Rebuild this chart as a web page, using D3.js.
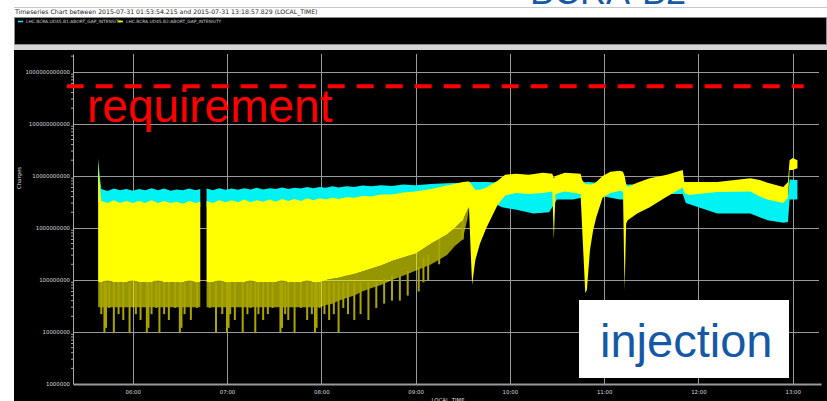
<!doctype html>
<html lang="en">
<head>
<meta charset="utf-8">
<script src="https://d3js.org/d3.v7.min.js"></script>
<title>Abort gap intensity</title>
<style>
  body { margin: 0; background: #fff; }
  svg { display: block; }
</style>
</head>
<body>
<svg id="svg" width="827" height="401"></svg>
<script>
// ---- data ----
const titleText = "Timeseries Chart between 2015-07-31 01:53:54.215 and 2015-07-31 13:18:57.829 (LOCAL_TIME)";
const seriesNames = ["LHC.BCRA.UD45.B1:ABORT_GAP_INTENSITY", "LHC.BCRA.UD45.B2:ABORT_GAP_INTENSITY"];
const hourTicks = ["06:00", "07:00", "08:00", "09:00", "10:00", "11:00", "12:00", "13:00"];
const yTicks = [1e6, 1e7, 1e8, 1e9, 1e10, 1e11, 1e12];
const timeDomain = ["05:22", "13:18"];
const requirement = { value: 5.3e11, from: "05:18", to: "13:07", label: "requirement" };
const injectionLabel = "injection";
const slideLabel = "BCRA-B2";

// B1 (cyan): [time, upper, lower]
const b1 = [
  ["05:38", 2.2e10, 3.0e9], ["05:39", 1.0e10, 3.0e9], ["05:40", 5.6e9, 2.5e9],
  ["05:44", 5.1e9, 2.5e9], ["05:48", 5.7e9, 2.5e9], ["05:52", 5.3e9, 2.5e9],
  ["05:56", 5.6e9, 2.5e9], ["06:00", 5.2e9, 2.5e9], ["06:04", 5.6e9, 2.5e9],
  ["06:08", 5.3e9, 2.5e9], ["06:12", 5.8e9, 2.5e9], ["06:16", 5.3e9, 2.5e9],
  ["06:20", 5.7e9, 2.5e9], ["06:24", 5.2e9, 2.5e9], ["06:28", 5.5e9, 2.5e9],
  ["06:32", 5.3e9, 2.5e9], ["06:36", 5.7e9, 2.5e9], ["06:40", 5.3e9, 2.5e9],
  ["06:43", 5.6e9, 2.5e9], ["06:45", null, null],
  ["06:47", 5.7e9, 2.5e9], ["06:51", 5.3e9, 2.5e9], ["06:55", 5.8e9, 2.5e9],
  ["06:59", 5.4e9, 2.5e9], ["07:03", 5.7e9, 2.5e9], ["07:07", 5.4e9, 2.5e9],
  ["07:11", 5.8e9, 2.5e9], ["07:15", 5.5e9, 2.5e9], ["07:19", 5.9e9, 2.5e9],
  ["07:23", 5.5e9, 2.5e9], ["07:27", 5.8e9, 2.5e9], ["07:31", 5.6e9, 2.5e9],
  ["07:35", 6.0e9, 2.5e9], ["07:39", 5.6e9, 2.5e9], ["07:43", 5.9e9, 2.5e9],
  ["07:47", 5.7e9, 2.5e9], ["07:51", 6.1e9, 2.5e9], ["07:55", 5.8e9, 2.5e9],
  ["07:59", 6.1e9, 2.5e9], ["08:03", 5.9e9, 2.5e9], ["08:07", 6.3e9, 2.5e9],
  ["08:11", 6.0e9, 2.5e9], ["08:16", 6.3e9, 2.5e9], ["08:21", 6.1e9, 2.5e9],
  ["08:26", 6.5e9, 2.5e9], ["08:32", 6.3e9, 2.5e9], ["08:38", 6.6e9, 2.5e9],
  ["08:45", 6.4e9, 2.5e9], ["08:52", 6.8e9, 2.5e9], ["09:00", 6.6e9, 2.5e9],
  ["09:10", 7.0e9, 2.8e9], ["09:20", 7.2e9, 3.0e9], ["09:30", 7.4e9, 3.5e9],
  ["09:36", 7.6e9, 3.5e9], ["09:45", 7.6e9, 3.5e9], ["09:55", 7.4e9, 2.5e9],
  ["10:05", 7.4e9, 2.2e9], ["10:15", 6.8e9, 1.9e9], ["10:25", 7.0e9, 2.0e9],
  ["10:30", 7.4e9, 3.5e9], ["10:40", 7.4e9, 3.5e9], ["10:50", 7.6e9, 4.0e9],
  ["11:00", 7.2e9, 4.0e9], ["11:10", 6.8e9, 3.5e9], ["11:20", 6.8e9, 3.5e9],
  ["11:30", 7.4e9, 4.0e9], ["11:40", 7.8e9, 4.5e9], ["11:50", 8.0e9, 4.5e9],
  ["11:52", 7.4e9, 3.0e9], ["12:00", 6.5e9, 2.5e9], ["12:12", 6.0e9, 1.9e9],
  ["12:25", 5.8e9, 1.9e9], ["12:33", 5.6e9, 1.9e9], ["12:44", 4.0e9, 1.4e9],
  ["12:54", 3.4e9, 1.25e9], ["12:57", 4.0e9, 1.3e9], ["12:58", 8.5e9, 3.5e9],
  ["13:03", 8.3e9, 3.5e9]
];

// B2 (yellow): [time, upper, solid lower, faint lower]
const b2 = [
  ["05:38", 1.8e10, 9e7, 3e7], ["05:39", 7.0e9, 9e7, 3e7], ["05:40", 3.3e9, 9e7, 3e7],
  ["05:44", 3.0e9, 1e8, 3e7], ["05:48", 3.4e9, 9e7, 3e7], ["05:52", 3.0e9, 9e7, 3e7],
  ["05:56", 3.3e9, 9e7, 3e7], ["06:00", 3.0e9, 1e8, 3e7], ["06:04", 3.3e9, 9e7, 3e7],
  ["06:08", 3.0e9, 9e7, 3e7], ["06:12", 3.4e9, 9e7, 3e7], ["06:16", 3.0e9, 1e8, 3e7],
  ["06:20", 3.3e9, 9e7, 3e7], ["06:24", 3.0e9, 9e7, 3e7], ["06:28", 3.2e9, 9e7, 3e7],
  ["06:32", 2.9e9, 9e7, 3e7], ["06:36", 3.3e9, 1e8, 3e7], ["06:40", 3.0e9, 9e7, 3e7],
  ["06:43", 3.2e9, 9e7, 3e7], ["06:45", null, null, null],
  ["06:47", 3.3e9, 9e7, 3e7], ["06:51", 3.0e9, 9e7, 3e7], ["06:55", 3.4e9, 1e8, 3e7],
  ["06:59", 3.1e9, 9e7, 3e7], ["07:03", 3.4e9, 9e7, 3e7], ["07:07", 3.1e9, 9e7, 3e7],
  ["07:11", 3.5e9, 9e7, 3e7], ["07:15", 3.1e9, 1e8, 3e7], ["07:19", 3.4e9, 9e7, 3e7],
  ["07:23", 3.2e9, 9e7, 3e7], ["07:27", 3.5e9, 9e7, 3e7], ["07:31", 3.2e9, 9e7, 3e7],
  ["07:35", 3.6e9, 1e8, 3e7], ["07:39", 3.3e9, 9e7, 3e7], ["07:43", 3.6e9, 9e7, 3e7],
  ["07:47", 3.3e9, 9e7, 3e7], ["07:51", 3.7e9, 1e8, 3e7], ["07:55", 3.4e9, 9e7, 3e7],
  ["07:59", 3.7e9, 9e7, 3e7], ["08:03", 3.5e9, 1e8, 3.3e7], ["08:07", 3.8e9, 1.05e8, 3.5e7],
  ["08:11", 3.6e9, 1.1e8, 4e7], ["08:16", 3.9e9, 1.2e8, 4.5e7], ["08:21", 3.8e9, 1.3e8, 5e7],
  ["08:26", 4.1e9, 1.45e8, 6e7], ["08:32", 4.0e9, 1.65e8, 7e7], ["08:38", 4.4e9, 1.9e8, 8e7],
  ["08:45", 4.4e9, 2.3e8, 1.0e8], ["08:52", 4.8e9, 2.7e8, 1.2e8], ["09:00", 5.0e9, 3.2e8, 1.5e8],
  ["09:10", 5.6e9, 5.0e8, 2e8], ["09:20", 6.5e9, 7.5e8, 3e8], ["09:25", 7.0e9, 1.0e9, 4.5e8],
  ["09:30", 7.6e9, 1.4e9, 6e8], ["09:33", 7.8e9, 2.2e9, 1.5e9], ["09:34", 7.8e9, 2.5e9],
  ["09:35", 7.2e9, 4e8], ["09:36", 6.5e9, 8e7], ["09:38", 5.4e9, 2.4e8],
  ["09:41", 5.4e9, 5e8], ["09:45", 6.0e9, 1e9], ["09:52", 8.0e9, 2.7e9],
  ["09:57", 1.05e10, 4.2e9], ["10:04", 1.1e10, 4.7e9], ["10:12", 1.05e10, 4.5e9],
  ["10:21", 1.15e10, 4.7e9], ["10:27", 1.1e10, 5.0e9], ["10:28", 9.0e9, 6e8],
  ["10:29", 1.0e10, 4.5e9], ["10:35", 1.15e10, 5.0e9], ["10:45", 1.1e10, 4.5e9],
  ["10:46", 8.3e9, 1e9], ["10:48", 7.0e9, 5.6e7], ["10:49", 7.0e9, 6.4e7],
  ["10:51", 6.8e9, 3.8e8], ["10:53", 7.0e9, 9e8], ["10:55", 7.6e9, 1.6e9],
  ["10:59", 1.0e10, 3.8e9], ["11:04", 1.2e10, 4.7e9], ["11:10", 1.25e10, 5.2e9],
  ["11:12", 1.2e10, 5.0e9], ["11:13", 1.0e10, 6.4e7], ["11:14", 7.0e9, 1.2e9],
  ["11:15", 6.1e9, 1.4e9], ["11:21", 7.4e9, 1.9e9], ["11:29", 9.0e9, 2.5e9],
  ["11:40", 1.05e10, 4.0e9], ["11:50", 1.3e10, 6.0e9], ["11:51", 7.6e9, 4.7e9],
  ["11:54", 7.6e9, 4.3e9], ["12:12", 7.6e9, 4.9e9], ["12:33", 9.0e9, 5.0e9],
  ["12:39", 8.3e9, 4.0e9], ["12:44", 7.4e9, 3.5e9], ["12:54", 6.1e9, 3.0e9],
  ["12:57", 7.6e9, 3.8e9], ["12:58", 2.0e10, 1.3e10], ["13:00", 2.2e10, 1.3e10],
  ["13:03", 2.0e10, 1.4e10]
];

// B2 downward spikes below the solid band: [time, lowest value]
const b2Spikes = [
  ["05:40", 2.2e7], ["05:42", 9.5e6], ["05:43", 1.2e7], ["05:45", 2.9e7], ["05:48", 9.5e6],
  ["05:51", 2.2e7], ["05:54", 1.7e7], ["05:58", 9.5e6], ["06:02", 2.2e7], ["06:05", 1.7e7],
  ["06:09", 9.5e6], ["06:10", 1.2e7], ["06:12", 2.2e7], ["06:15", 2.9e7], ["06:17", 9.5e6],
  ["06:20", 2.2e7], ["06:23", 1.7e7], ["06:27", 2.9e7], ["06:30", 9.5e6], ["06:31", 1.2e7],
  ["06:33", 2.2e7], ["06:37", 1.7e7], ["06:41", 2.9e7], ["06:49", 2.9e7], ["06:53", 9.5e6],
  ["06:57", 2.2e7], ["07:00", 9.5e6], ["07:01", 1.2e7], ["07:02", 2.2e7], ["07:05", 1.7e7],
  ["07:10", 9.5e6], ["07:13", 2.2e7], ["07:15", 2.9e7], ["07:18", 9.5e6], ["07:20", 2.2e7],
  ["07:23", 1.7e7], ["07:26", 2.2e7], ["07:29", 2.9e7], ["07:34", 9.5e6], ["07:35", 1.2e7],
  ["07:37", 2.2e7], ["07:39", 1.7e7], ["07:43", 9.5e6], ["07:47", 2.9e7], ["07:51", 1.7e7],
  ["07:54", 2.2e7], ["07:56", 9.5e6], ["07:57", 1.2e7], ["07:59", 2.9e7], ["08:02", 2.2e7],
  ["08:05", 1.7e7], ["08:08", 2.2e7], ["08:11", 9.5e6], ["08:14", 2.9e7], ["08:17", 2.2e7],
  ["08:21", 1.7e7], ["08:25", 2.2e7], ["08:30", 1.7e7], ["08:35", 2.9e7], ["08:40", 3.5e7],
  ["08:45", 4e7], ["08:50", 4e7], ["08:55", 5e7], ["09:02", 6e7], ["09:05", 9e7],
  ["09:08", 1e8], ["09:15", 2e8], ["09:30", 6e8]
];

// ---- layout ----
const W = 827, H = 401;
const plot = { left: 73, right: 821, top: 54, bottom: 384 };
const parse = d3.timeParse("%Y-%m-%d %H:%M");
const t = s => parse("2015-07-31 " + s);

const x = d3.scaleTime().domain(timeDomain.map(t)).range([plot.left, plot.right]);
const y = d3.scaleLog().domain([1e6, 2.2e12]).range([plot.bottom, plot.top]);

const svg = d3.select("#svg");
const font = "'DejaVu Sans', sans-serif";
const blue = "#1559a6";

svg.append("rect").attr("width", W).attr("height", H).attr("fill", "#fff");

// slide heading, mostly cut off by the top edge
svg.append("text").attr("x", 530).attr("y", 4)
  .attr("font-family", "'Liberation Sans', Arial, sans-serif").attr("font-size", 36)
  .attr("fill", blue).text(slideLabel);

// chart window frame
svg.append("line").attr("x1", 14).attr("x2", W).attr("y1", 7.5).attr("y2", 7.5)
  .attr("stroke", "#c3c7cf");
svg.append("text").attr("x", 15).attr("y", 13.5)
  .attr("font-family", font).attr("font-size", 6.2).attr("fill", "#222")
  .text(titleText);

svg.append("rect").attr("x", 14.5).attr("y", 17.5).attr("width", 812).attr("height", 27)
  .attr("fill", "#000").attr("stroke", "#8a8e94");
svg.append("rect").attr("x", 14).attr("y", 45).attr("width", 813).attr("height", 5)
  .attr("fill", "#d6d6d6");
svg.append("rect").attr("x", 14).attr("y", 50).attr("width", 813).attr("height", 351)
  .attr("fill", "#000");

// legend
const legend = svg.append("g").attr("font-family", font).attr("font-size", 4.4).attr("fill", "#cfcfcf");
const legendX = [18, 118];
const colors = ["#00f5f5", "#f2f200"];
seriesNames.forEach((name, i) => {
  legend.append("line").attr("x1", legendX[i]).attr("x2", legendX[i] + 5)
    .attr("y1", 21.5).attr("y2", 21.5).attr("stroke", colors[i]).attr("stroke-width", 1.6);
  legend.append("text").attr("x", legendX[i] + 8).attr("y", 23).text(name);
});

// grid
const grid = svg.append("g").attr("stroke", "#9a9a9a").attr("stroke-width", 1);
grid.selectAll(".h").data(yTicks.slice(1)).join("line")
  .attr("x1", plot.left).attr("x2", plot.right - 2)
  .attr("y1", d => Math.round(y(d)) + 0.5).attr("y2", d => Math.round(y(d)) + 0.5);
grid.selectAll(".v").data(hourTicks).join("line")
  .attr("x1", d => Math.round(x(t(d))) + 0.5).attr("x2", d => Math.round(x(t(d))) + 0.5)
  .attr("y1", plot.top).attr("y2", plot.bottom);

// data
const area = (hi, lo) => d3.area()
  .defined(d => d[1] != null)
  .x(d => x(t(d[0])))
  .y0(d => y(lo(d)))
  .y1(d => y(hi(d)));

svg.append("path").datum(b1)
  .attr("fill", "#00f2f2")
  .attr("d", area(d => d[1], d => d[2]));

svg.append("path").datum(b2)
  .attr("fill", "#f2f200").attr("fill-opacity", 0.62)
  .attr("d", area(d => d[2], d => d[3] ?? d[2]));

svg.append("g").selectAll("rect").data(b2Spikes).join("rect")
  .attr("x", d => x(t(d[0])) - 1)
  .attr("width", 2)
  .attr("y", d => y(Math.max(9e7, d[1] * 3)))
  .attr("height", d => Math.max(0, y(d[1]) - y(Math.max(9e7, d[1] * 3))))
  .attr("fill", "#aaa500");

svg.append("path").datum(b2)
  .attr("fill", "#ffff00")
  .attr("d", area(d => d[1], d => d[2]));

// axes
const yAxis = svg.append("g").attr("transform", `translate(${plot.left},0)`)
  .call(d3.axisLeft(y).tickValues(yTicks).tickFormat(d3.format("d"))
    .tickSize(0).tickSizeOuter(0).tickPadding(3));
yAxis.select(".domain").attr("stroke", "#a8a8a8");
yAxis.selectAll("text").attr("font-family", font).attr("font-size", 5.4).attr("fill", "#d8d8d8");

const minor = [];
yTicks.forEach(p => { for (let k = 2; k <= 9; k++) if (p * k < 2.2e12) minor.push(p * k); });
svg.append("g").attr("stroke", "#a8a8a8").selectAll("line").data(minor).join("line")
  .attr("x1", plot.left - 2).attr("x2", plot.left)
  .attr("y1", d => y(d)).attr("y2", d => y(d));

const xAxis = svg.append("g").attr("transform", `translate(0,${plot.bottom})`)
  .call(d3.axisBottom(x).tickValues(hourTicks.map(t)).tickFormat(d3.timeFormat("%H:%M"))
    .tickSize(0).tickSizeOuter(0).tickPadding(6));
xAxis.select(".domain").attr("stroke", "#9a9a9a").attr("stroke-width", 2);
xAxis.selectAll("text").attr("font-family", font).attr("font-size", 5.4).attr("fill", "#d8d8d8");

svg.append("text").attr("transform", "translate(21,178) rotate(-90)")
  .attr("text-anchor", "middle").attr("font-family", font).attr("font-size", 5.4)
  .attr("fill", "#d8d8d8").text("Charges");
svg.append("text").attr("x", 448).attr("y", 401.5)
  .attr("text-anchor", "middle").attr("font-family", font).attr("font-size", 5.4)
  .attr("fill", "#d8d8d8").text("LOCAL_TIME");

// requirement annotation
svg.append("line")
  .attr("x1", x(t(requirement.from))).attr("x2", x(t(requirement.to)))
  .attr("y1", y(requirement.value)).attr("y2", y(requirement.value))
  .attr("stroke", "#ff0000").attr("stroke-width", 4).attr("stroke-dasharray", "17,12");
svg.append("text").attr("x", 87).attr("y", 122)
  .attr("font-family", "'Liberation Sans', Arial, sans-serif").attr("font-size", 46)
  .attr("fill", "#ff0000").text(requirement.label);

// injection label box
svg.append("rect").attr("x", 579).attr("y", 300).attr("width", 210).attr("height", 78)
  .attr("fill", "#fff");
svg.append("text").attr("x", 600).attr("y", 357)
  .attr("font-family", "'Liberation Sans', Arial, sans-serif").attr("font-size", 47)
  .attr("fill", blue).text(injectionLabel);
</script>
</body>
</html>
